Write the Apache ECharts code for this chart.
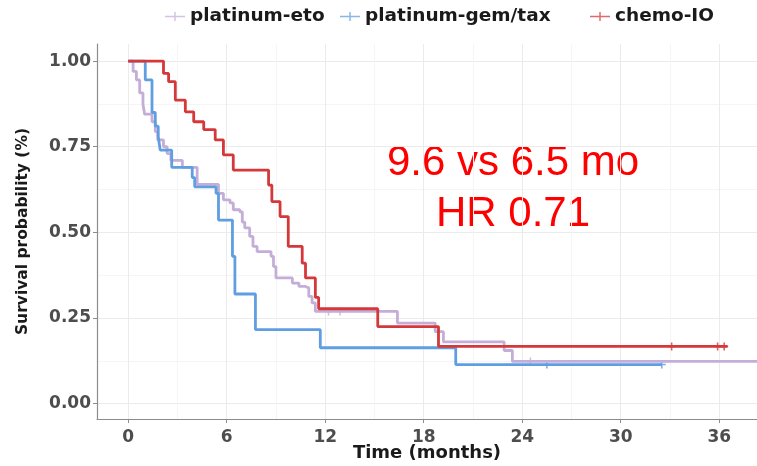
<!DOCTYPE html>
<html>
<head>
<meta charset="utf-8">
<script src="https://cdn.jsdelivr.net/npm/echarts@6/dist/echarts.min.js"></script>
<style>
html,body{margin:0;padding:0;background:#fff;}
#chart{width:757px;height:466px;}
</style>
</head>
<body>
<div id="chart"></div>
<script>
// ---- data (time in months, survival probability) ----
const seriesNames = ['platinum-eto', 'platinum-gem/tax', 'chemo-IO'];

const platEto = [[0,1],[0.3,0.97],[0.5,0.945],[0.7,0.907],[0.9,0.875],[1.0,0.845],[1.45,0.823],[1.65,0.794],[1.8,0.77],[2.15,0.75],[2.37,0.73],[2.6,0.71],[3.3,0.69],[4.2,0.64],[5.5,0.614],[5.8,0.595],[6.2,0.586],[6.4,0.566],[6.8,0.56],[6.95,0.53],[7.1,0.513],[7.4,0.488],[7.6,0.459],[7.85,0.444],[8.7,0.43],[8.85,0.40],[9.0,0.367],[10.0,0.352],[10.4,0.342],[10.8,0.338],[11.0,0.313],[11.2,0.294],[11.4,0.269],[16.4,0.235],[18.7,0.21],[19.2,0.18],[22.9,0.155],[23.4,0.123],[38.5,0.123]];

const gemTax = [[0,1],[1.04,0.945],[1.45,0.85],[1.65,0.81],[1.83,0.78],[1.95,0.74],[2.65,0.69],[3.9,0.66],[4.05,0.633],[5.35,0.614],[5.5,0.536],[6.35,0.43],[6.5,0.32],[7.75,0.216],[11.7,0.163],[19.95,0.114],[32.5,0.114]];

const chemoIO = [[0,1],[2.15,0.964],[2.46,0.94],[2.87,0.886],[3.48,0.852],[3.99,0.823],[4.6,0.80],[5.3,0.77],[5.8,0.726],[6.4,0.682],[8.55,0.638],[8.75,0.59],[9.25,0.546],[9.75,0.459],[10.6,0.41],[10.8,0.367],[11.4,0.31],[11.6,0.277],[15.2,0.225],[18.9,0.167],[36.5,0.167]];

const censorEto = [[12.2,0.269],[12.9,0.269],[24.5,0.123]];
const censorGem = [[25.5,0.114],[32.5,0.114]];
const censorIO = [[33.1,0.167],[35.9,0.167],[36.3,0.167]];

const xMajor = [0,6,12,18,24,30,36];
const xMinor = [3,9,15,21,27,33];
const yMajor = [0,0.25,0.5,0.75,1];
const yMinor = [0.125,0.375,0.625,0.875];

const annotation1 = '9.6 vs 6.5 mo';
const annotation2 = 'HR 0.71';

// ---- styling ----
const colors = ['#c4aed8', '#5f9ee0', '#d5383a'];
const plus = 'path://M4,0h2v4h4v2h-4v4h-2v-4h-4v-2h4z';
const legendIcon = 'path://M0,4.2h22v1.6h-22z M10.2,0h1.6v10h-1.6z';
const FONT = 'DejaVu Sans';
const X_MIN = -1.9, X_MAX = 38.3, Y_MIN = -0.045, Y_MAX = 1.05;
const legendLefts = [160, 335, 585];

const chart = echarts.init(document.getElementById('chart'), null, {renderer: 'canvas'});

function stepLine(name, data, color) {
  return {
    name: name, type: 'line', step: 'end', data: data,
    xAxisIndex: 0, yAxisIndex: 0,
    showSymbol: false, symbol: 'none', silent: true,
    lineStyle: {color: color, width: 2.8},
    itemStyle: {color: color},
    clip: true, animation: false
  };
}
function censor(name, data, color) {
  return {
    name: name, type: 'scatter', data: data, symbol: plus, symbolSize: 8,
    xAxisIndex: 0, yAxisIndex: 0,
    itemStyle: {color: color}, silent: true, animation: false
  };
}

const option = {
  backgroundColor: '#fff',
  animation: false,
  grid: {left: 97, right: 0, top: 44, bottom: 47, containLabel: false, outerBoundsMode: 'none'},
  legend: seriesNames.map((n, i) => ({
    top: 2, left: legendLefts[i],
    data: [{name: n, icon: legendIcon, itemStyle: {color: colors[i], opacity: 0.75}}],
    itemWidth: 20, itemHeight: 10,
    textStyle: {fontFamily: FONT, fontWeight: 'bold', fontSize: 18.5, color: '#1a1a1a'}
  })),
  xAxis: [{
    type: 'value', min: X_MIN, max: X_MAX,
    name: 'Time (months)', nameLocation: 'middle', nameGap: 25, nameMoveOverlap: false,
    nameTextStyle: {fontFamily: FONT, fontWeight: 'bold', fontSize: 18, color: '#1a1a1a', verticalAlign: 'top'},
    axisLine: {show: true, onZero: false, lineStyle: {color: '#8c8c8c', width: 1.2}},
    axisTick: {show: true, length: 4, customValues: xMajor, lineStyle: {color: '#8c8c8c'}},
    axisLabel: {customValues: xMajor, margin: 10, fontFamily: FONT, fontWeight: 'bold', fontSize: 17, color: '#4d4d4d'},
    splitLine: {show: true, lineStyle: {color: '#ebebeb', width: 1}}
  }, {
    type: 'value', min: X_MIN, max: X_MAX, gridIndex: 0, position: 'bottom',
    axisLine: {show: false}, axisLabel: {show: false},
    axisTick: {show: false, customValues: xMinor},
    splitLine: {show: true, lineStyle: {color: '#f5f5f5', width: 1}}
  }],
  yAxis: [{
    type: 'value', min: Y_MIN, max: Y_MAX,
    name: 'Survival probability (%)', nameLocation: 'middle', nameGap: 66, nameRotate: 90, nameMoveOverlap: false,
    nameTextStyle: {fontFamily: FONT, fontWeight: 'bold', fontSize: 15.5, color: '#1a1a1a'},
    axisLine: {show: true, onZero: false, lineStyle: {color: '#8c8c8c', width: 1.2}},
    axisTick: {show: true, length: 4, customValues: yMajor, lineStyle: {color: '#8c8c8c'}},
    axisLabel: {customValues: yMajor, margin: 6, formatter: v => v.toFixed(2), fontFamily: FONT, fontWeight: 'bold', fontSize: 17, color: '#4d4d4d'},
    splitLine: {show: true, lineStyle: {color: '#ebebeb', width: 1}}
  }, {
    type: 'value', min: Y_MIN, max: Y_MAX, gridIndex: 0, position: 'left',
    axisLine: {show: false}, axisLabel: {show: false},
    axisTick: {show: false, customValues: yMinor},
    splitLine: {show: true, lineStyle: {color: '#f5f5f5', width: 1}}
  }],
  series: [
    stepLine(seriesNames[0], platEto, colors[0]),
    stepLine(seriesNames[1], gemTax, colors[1]),
    stepLine(seriesNames[2], chemoIO, colors[2]),
    censor('c-eto', censorEto, colors[0]),
    censor('c-gem', censorGem, colors[1]),
    censor('c-io', censorIO, colors[2])
  ],
  graphic: [
    {type: 'text', left: 387, top: 142, silent: true,
     style: {text: annotation1, fill: '#ff0000', font: '42px "Liberation Sans", Arial, sans-serif'}},
    {type: 'text', left: 436, top: 193, silent: true,
     style: {text: annotation2, fill: '#ff0000', font: '42px "Liberation Sans", Arial, sans-serif'}}
  ]
};
chart.setOption(option);
</script>
</body>
</html>
